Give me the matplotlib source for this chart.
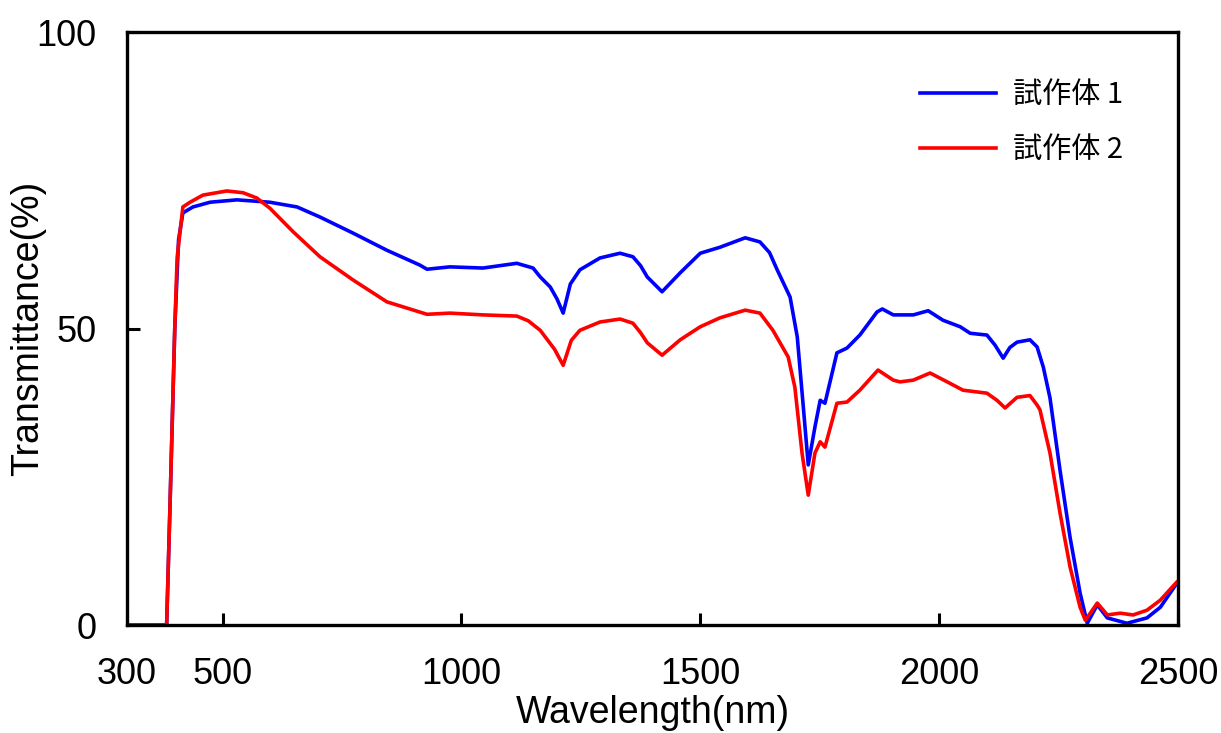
import matplotlib
matplotlib.use("Agg")
import matplotlib.pyplot as plt

plt.rcParams['font.family'] = ['Liberation Sans', 'Noto Sans CJK JP', 'DejaVu Sans']

# Spectral transmittance of two prototype samples
wl_1 = [300, 383, 390, 400, 408, 417, 438, 474, 530, 599, 656, 704, 773, 844,
        913, 928, 976, 1045, 1116, 1150, 1165, 1186, 1200, 1213, 1228, 1248,
        1290, 1332, 1359, 1375, 1389, 1420, 1458, 1500, 1541, 1594, 1625, 1645,
        1661, 1688, 1703, 1715, 1726, 1740, 1751, 1761, 1786, 1807, 1834, 1870,
        1881, 1904, 1946, 1977, 2008, 2044, 2065, 2100, 2117, 2134, 2148, 2163,
        2190, 2205, 2218, 2232, 2253, 2274, 2295, 2310, 2331, 2352, 2393, 2435,
        2463, 2498, 2500]
t_1 = [0, 0, 20, 50, 65, 69.5, 70.5, 71.3, 71.7, 71.3, 70.5, 68.8, 66.1, 63.2,
       60.7, 60.0, 60.4, 60.2, 61.0, 60.2, 58.7, 57.0, 55.0, 52.6, 57.5, 59.9,
       61.9, 62.7, 62.1, 60.6, 58.7, 56.2, 59.4, 62.7, 63.7, 65.3, 64.6, 62.8,
       59.9, 55.3, 48.6, 37.4, 27.0, 33.4, 37.9, 37.4, 45.9, 46.7, 48.9, 52.8,
       53.3, 52.3, 52.3, 53.0, 51.4, 50.3, 49.2, 48.9, 47.2, 45.0, 46.8, 47.7,
       48.1, 46.9, 43.5, 38.3, 26.1, 14.8, 5.4, 0.3, 3.4, 1.2, 0.3, 1.2, 3.0,
       7.1, 7.2]

wl_2 = [300, 383, 390, 400, 405, 417, 432, 459, 509, 543, 572, 599, 648, 704,
        773, 844, 928, 976, 1045, 1116, 1140, 1165, 1195, 1213, 1230, 1248,
        1290, 1332, 1359, 1375, 1389, 1420, 1458, 1500, 1541, 1594, 1625, 1652,
        1684, 1698, 1713, 1726, 1740, 1751, 1761, 1786, 1807, 1834, 1872, 1904,
        1918, 1946, 1981, 2017, 2050, 2100, 2121, 2138, 2163, 2190, 2205, 2211,
        2232, 2253, 2274, 2295, 2306, 2331, 2352, 2379, 2406, 2435, 2463, 2498,
        2500]
t_2 = [0, 0, 20, 50, 62, 70.5, 71.3, 72.5, 73.2, 72.9, 72.0, 70.3, 66.3, 62.1,
       58.2, 54.5, 52.4, 52.6, 52.3, 52.1, 51.3, 49.7, 46.5, 43.8, 48.0, 49.7,
       51.1, 51.6, 50.9, 49.3, 47.6, 45.5, 48.1, 50.3, 51.8, 53.1, 52.6, 49.7,
       45.2, 40.1, 29.0, 21.9, 29.0, 30.9, 30.0, 37.4, 37.6, 39.6, 43.0, 41.3,
       41.0, 41.3, 42.5, 41.0, 39.6, 39.1, 37.9, 36.6, 38.4, 38.7, 37.1, 36.3,
       29.0, 18.9, 9.8, 3.0, 0.8, 3.7, 1.7, 2.0, 1.7, 2.5, 4.2, 7.3, 7.4]

series_names = ['試作体 1', '試作体 2']
x_ticks = [300, 500, 1000, 1500, 2000, 2500]
y_ticks = [0, 50, 100]

fig = plt.figure(figsize=(12.21, 7.33), dpi=100)
ax = fig.add_axes([0.104, 0.1473, 0.8608, 0.809])

ax.plot(wl_1, t_1, color='#0000FF', lw=2.6, label=series_names[0])
ax.plot(wl_2, t_2, color='#FF0000', lw=2.6, label=series_names[1])

ax.set_xlim(300, 2500)
ax.set_ylim(0, 100)
ax.set_xticks(x_ticks)
ax.set_yticks(y_ticks)
ax.tick_params(axis='both', direction='in', length=9, width=2.2,
               labelsize=26)
ax.tick_params(axis='x', pad=23)
ax.tick_params(axis='y', pad=22)
for s in ax.spines.values():
    s.set_linewidth(2.4)

ax.set_xlabel('Wavelength(nm)', fontsize=27, labelpad=2)
ax.set_ylabel('Transmittance(%)', fontsize=27)
ax.yaxis.set_label_coords(-0.077, 0.5)

leg = ax.legend(loc='upper right', bbox_to_anchor=(0.973, 0.963),
                frameon=False, handlelength=2.6, handletextpad=0.6,
                labelspacing=0.85,
                prop={'family': ['Noto Sans CJK JP', 'DejaVu Sans'], 'size': 21})

fig.savefig('out.png', dpi=100)
